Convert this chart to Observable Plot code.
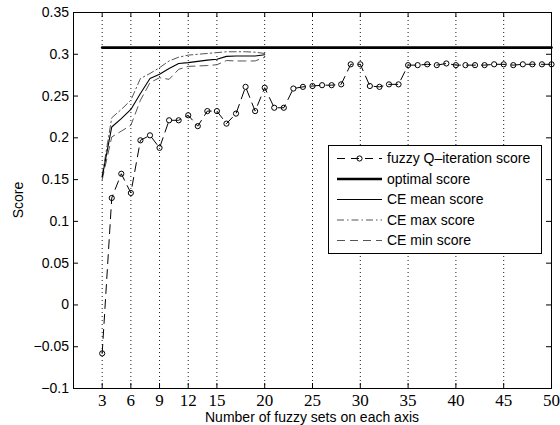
<!DOCTYPE html>
<html><head><meta charset="utf-8">
<script src="https://cdn.jsdelivr.net/npm/d3@7"></script>
<script src="https://cdn.jsdelivr.net/npm/@observablehq/plot@0.6"></script>
<style>html,body{margin:0;padding:0;background:#fff}#chart{position:relative;width:560px;height:425px}#legend{position:absolute;left:0;top:0}</style>
</head><body><div id="chart"></div>
<script>
// ---- data ----
const ceSets = [3,4,5,6,7,8,9,10,11,12,13,14,15,16,17,18,19,20];
const ceMean = [0.153,0.213,0.223,0.234,0.253,0.271,0.276,0.283,0.289,0.290,0.2915,0.293,0.294,0.2975,0.298,0.298,0.298,0.2995];
const ceMax  = [0.155,0.224,0.234,0.245,0.271,0.277,0.284,0.292,0.2965,0.299,0.300,0.301,0.302,0.303,0.303,0.303,0.3025,0.301];
const ceMin  = [0.150,0.201,0.208,0.215,0.245,0.266,0.272,0.270,0.282,0.2855,0.286,0.2865,0.2875,0.2925,0.292,0.292,0.292,0.2965];
const fqSets = [3,4,5,6,7,8,9,10,11,12,13,14,15,16,17,18,19,20,21,22,23,24,25,26,27,28,29,30,31,32,33,34,35,36,37,38,39,40,41,42,43,44,45,46,47,48,49,50];
const fqScore = [-0.058,0.128,0.157,0.134,0.197,0.203,0.188,0.221,0.221,0.227,0.214,0.232,0.232,0.217,0.229,0.261,0.232,0.260,
  0.236,0.236,0.259,0.261,0.262,0.263,0.263,0.264,0.288,0.288,0.262,0.261,0.264,0.264,0.287,0.287,0.288,0.287,0.289,0.287,
  0.287,0.287,0.287,0.288,0.288,0.287,0.288,0.288,0.288,0.288];
const optimalRange = [3, 50];
const optimalScore = 0.308;
const xTicks = [3,6,9,12,15,20,25,30,35,40,45,50];
const yTicks = [-0.1,-0.05,0,0.05,0.1,0.15,0.2,0.25,0.3,0.35];
const legendLabels = ["fuzzy Q\u2013iteration score","optimal score","CE mean score","CE max score","CE min score"];
const xLabel = "Number of fuzzy sets on each axis";
const yLabel = "Score";

// ---- tables ----
const ce = ceSets.map((x,i)=>({x, mean: ceMean[i], max: ceMax[i], min: ceMin[i]}));
const fq = fqSets.map((x,i)=>({x, y: fqScore[i]}));
const opt = optimalRange.map(x=>({x, y: optimalScore}));

const W=560,H=425, mL=73, mR=9, mT=12, mB=37;
const frameW = W-mL-mR, frameH = H-mT-mB;
const sans = "'Liberation Sans', Arial, Helvetica, sans-serif";
const serif = "'Liberation Serif', 'Times New Roman', serif";
const fmt = d => { const s = String(+Math.abs(d).toFixed(2)); return d < 0 ? "\u2212" + s : s; };

const styles = {
  fq: {stroke:"#000", strokeWidth:1, dash:"9,6"},
  opt: {stroke:"#000", strokeWidth:2.6, dash:null},
  mean: {stroke:"#000", strokeWidth:1.1, dash:null},
  max: {stroke:"#555", strokeWidth:1, dash:"7,3,1.5,3"},
  min: {stroke:"#555", strokeWidth:1, dash:"8,5"}
};

const plot = Plot.plot({
  width: W, height: H, marginLeft: mL, marginRight: mR, marginTop: mT, marginBottom: mB,
  style: {background: "#fff", fontFamily: sans, color: "#000", overflow: "visible"},
  x: {domain: [0,50]},
  y: {domain: [-0.1, 0.35]},
  marks: [
    Plot.ruleX(xTicks, {stroke:"#000", strokeWidth: 0.9, strokeDasharray:"1,3"}),
    Plot.line(ce, {x:"x", y:"max", stroke:styles.max.stroke, strokeWidth:1, strokeDasharray:styles.max.dash}),
    Plot.line(ce, {x:"x", y:"min", stroke:styles.min.stroke, strokeWidth:1, strokeDasharray:styles.min.dash}),
    Plot.line(ce, {x:"x", y:"mean", stroke:"#000", strokeWidth:styles.mean.strokeWidth}),
    Plot.line(opt, {x:"x", y:"y", stroke:"#000", strokeWidth:styles.opt.strokeWidth}),
    Plot.line(fq, {x:"x", y:"y", stroke:"#000", strokeWidth:1, strokeDasharray:styles.fq.dash}),
    Plot.dot(fq, {x:"x", y:"y", r:2.6, stroke:"#000", fill:"none", strokeWidth:1}),
    Plot.ruleX(xTicks, {insetTop: frameH-5, stroke:"#000"}),
    Plot.ruleX(xTicks, {insetBottom: frameH-5, stroke:"#000"}),
    Plot.ruleY(yTicks, {insetRight: frameW-5, stroke:"#000"}),
    Plot.ruleY(yTicks, {insetLeft: frameW-5, stroke:"#000"}),
    Plot.frame({stroke:"#000"}),
    Plot.axisX({ticks: xTicks, tickSize: 0, tickPadding: 5, fontSize: 17, fontFamily: serif, label: null, tickFormat: d => String(d)}),
    Plot.axisY({ticks: yTicks, tickSize: 0, tickPadding: 4.5, fontSize: 14, label: null, tickFormat: fmt})
  ]
});

const svg = d3.select(plot);
// axis titles
svg.append("text").attr("x", mL + frameW/2).attr("y", 422).attr("text-anchor","middle")
  .attr("font-family", sans).attr("font-size", 14).attr("fill","#000").text(xLabel);
svg.append("text").attr("transform", "translate(23,200) rotate(-90)").attr("text-anchor","middle")
  .attr("font-family", sans).attr("font-size", 14).attr("fill","#000").text(yLabel);

const chart = document.getElementById("chart");
chart.appendChild(plot);

// legend overlay
const lsvg = d3.select(chart).append("svg").attr("id","legend").attr("width", W).attr("height", H)
  .attr("xmlns","http://www.w3.org/2000/svg");
const lx = 328, ly = 145, lw = 213, lh = 108;
lsvg.append("rect").attr("x", lx+0.5).attr("y", ly+0.5).attr("width", lw).attr("height", lh)
  .attr("fill","#fff").attr("stroke","#000").attr("stroke-width", 1);
const keys = ["fq","opt","mean","max","min"];
const rowY = [158.5, 179, 199.5, 220, 240.5];
keys.forEach((k,i) => {
  const s = styles[k], y = rowY[i];
  const ln = lsvg.append("line").attr("x1", 337).attr("x2", 382).attr("y1", y).attr("y2", y)
    .attr("stroke", s.stroke).attr("stroke-width", s.strokeWidth);
  if (s.dash) ln.attr("stroke-dasharray", k === "fq" ? "8,6" : s.dash);
  if (k === "fq") lsvg.append("circle").attr("cx", 359.5).attr("cy", y).attr("r", 2.6)
    .attr("fill","none").attr("stroke","#000");
  lsvg.append("text").attr("x", 387).attr("y", y).attr("dy","0.35em").attr("text-anchor","start")
    .attr("font-family", sans).attr("font-size", 14).attr("fill","#000").text(legendLabels[i]);
});
</script>
</body></html>
